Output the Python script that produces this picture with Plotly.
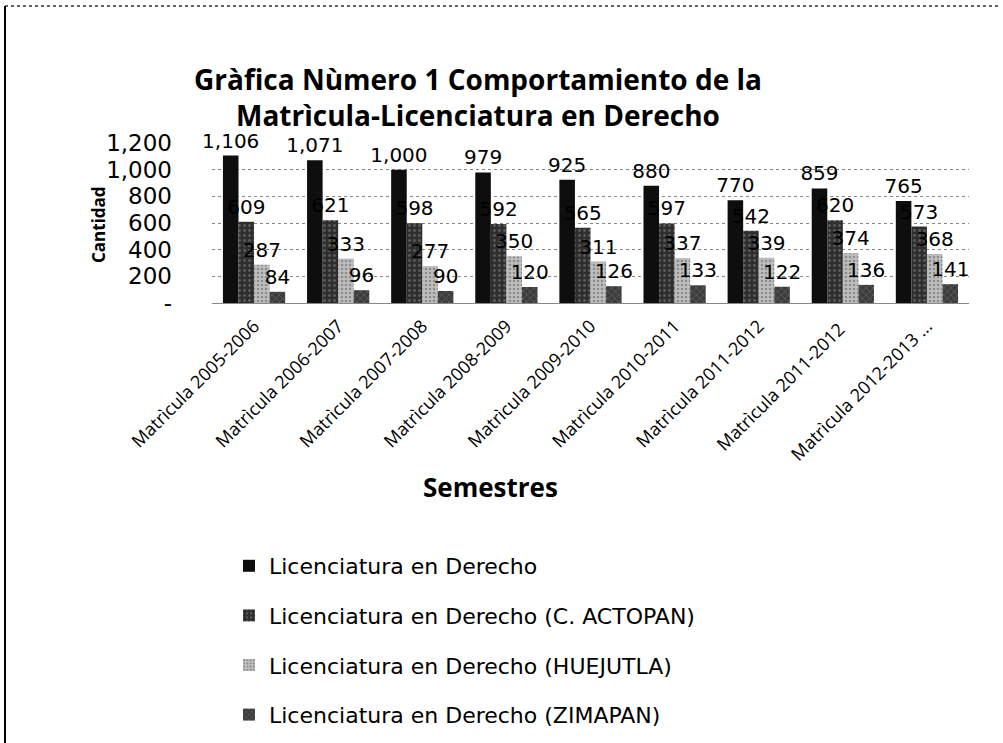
import plotly.graph_objects as go

# Categories (x axis) and series values
semestres = [
    "Matrìcula 2005-2006", "Matrìcula 2006-2007", "Matrìcula 2007-2008",
    "Matrìcula 2008-2009", "Matrìcula 2009-2010", "Matrìcula 2010-2011",
    "Matrìcula 2011-2012", "Matrìcula 2011-2012 ", "Matrìcula 2012-2013 ...",
]
derecho = [1106, 1071, 1000, 979, 925, 880, 770, 859, 765]
actopan = [609, 621, 598, 592, 565, 597, 542, 620, 573]
huejutla = [287, 333, 277, 350, 311, 337, 339, 374, 368]
zimapan = [84, 96, 90, 120, 126, 133, 122, 136, 141]

series_names = [
    "Licenciatura en Derecho",
    "Licenciatura en Derecho (C. ACTOPAN)",
    "Licenciatura en Derecho (HUEJUTLA)",
    "Licenciatura en Derecho (ZIMAPAN)",
]

y_ticks = [0, 200, 400, 600, 800, 1000, 1200]
y_tick_text = ["-", "200", "400", "600", "800", "1,000", "1,200"]

# Plot area placement in pixels (figure is 1003 x 743)
W, H = 1003, 743
L, R, T, B = 212, 969, 143, 303


def px_x(x):
    return (x - L) / (R - L)


def px_y(y):
    return (B - y) / (B - T)


styles = [
    dict(color="#0e0e0e", pattern=None),
    dict(color="#2e2e2e", pattern=dict(shape=".", fgcolor="#8a8a8a", size=5, solidity=0.25)),
    dict(color="#bdbdbd", pattern=dict(shape=".", fgcolor="#5a5a5a", size=4, solidity=0.3)),
    dict(color="#3c3c3c", pattern=dict(shape="x", fgcolor="#a0a0a0", size=5, solidity=0.2)),
]

fig = go.Figure()
for name, vals, st in zip(series_names, [derecho, actopan, huejutla, zimapan], styles):
    marker = dict(color=st["color"], line=dict(width=0))
    if st["pattern"]:
        marker["pattern"] = st["pattern"]
    fig.add_trace(go.Bar(
        x=semestres, y=vals, name=name, legendgroup=name,
        marker=marker,
        text=[f"{v:,}" for v in vals], textposition="outside",
        constraintext="none",
        textfont=dict(family="DejaVu Sans", size=20, color="#000000"),
        cliponaxis=False,
    ))

fig.update_layout(
    width=W, height=H,
    margin=dict(l=L, r=W - R, t=T, b=H - B, autoexpand=False),
    paper_bgcolor="white", plot_bgcolor="white",
    barmode="group", bargap=0.26, bargroupgap=0,
    font=dict(family="Open Sans, sans-serif", color="#000000"),
    title=dict(
        text="<b>Gràfica Nùmero 1 Comportamiento de la<br>Matrìcula-Licenciatura en Derecho</b>",
        x=px_x(478), xref="paper", xanchor="center",
        y=1 - 90 / H, yanchor="top",
        font=dict(family="Open Sans, sans-serif", size=28, color="#000000"),
    ),
    xaxis=dict(
        tickangle=-45, showgrid=False, showline=False, ticks="", automargin=False,
        ticklabelstandoff=8,
        tickfont=dict(family="Open Sans, sans-serif", size=18, color="#000000"),
    ),
    yaxis=dict(
        range=[0, 1200], tickvals=y_ticks, ticktext=y_tick_text, automargin=False,
        showgrid=True, gridcolor="#888888", griddash="dot", gridwidth=1,
        zeroline=True, zerolinecolor="#888888", zerolinewidth=1,
        showline=False, ticks="", ticklabelstandoff=39,
        tickfont=dict(family="DejaVu Sans", size=23, color="#000000"),
    ),
    showlegend=True,
    legend=dict(
        x=px_x(229), y=px_y(545), xanchor="left", yanchor="top",
        orientation="v", traceorder="grouped", tracegroupgap=18,
        font=dict(family="DejaVu Sans", size=22, color="#000000"),
        itemwidth=30, bgcolor="rgba(0,0,0,0)",
    ),
    annotations=[
        dict(text="<b>Cantidad</b>", x=px_x(98), y=px_y(225), xref="paper", yref="paper",
             xanchor="center", yanchor="middle",
             textangle=-90, showarrow=False,
             font=dict(family="Open Sans, sans-serif", size=17, color="#000000")),
        dict(text="<b>Semestres</b>", x=px_x(490), y=px_y(487), xref="paper", yref="paper",
             xanchor="center", yanchor="middle", showarrow=False,
             font=dict(family="Open Sans, sans-serif", size=26, color="#000000")),
    ],
    shapes=[
        dict(type="line", xref="paper", yref="paper",
             x0=px_x(5), x1=px_x(5), y0=px_y(6), y1=px_y(743),
             line=dict(color="#000000", width=2)),
        dict(type="line", xref="paper", yref="paper",
             x0=px_x(5), x1=px_x(1000), y0=px_y(6), y1=px_y(6),
             line=dict(color="#333333", width=1.5, dash="dot")),
    ],
)

# page body has an 8px default margin; drop it so the figure sits at the window corner
fig.write_html(
    "out.html",
    config={"displayModeBar": False},
    post_script="document.body.style.margin='0';",
)
